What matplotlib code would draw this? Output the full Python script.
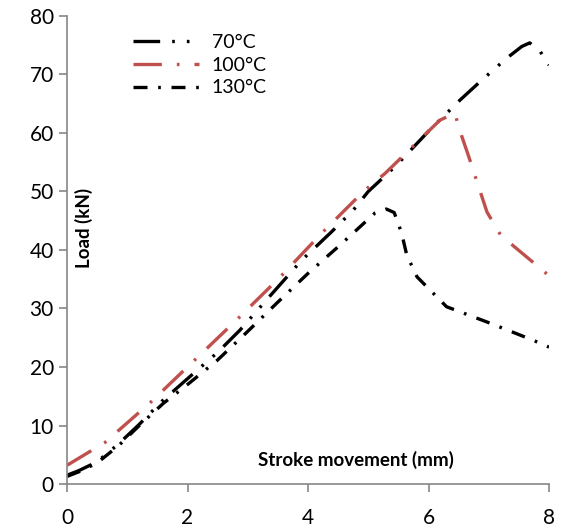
import matplotlib.pyplot as plt

plt.rcParams["font.family"] = ["Lato", "DejaVu Sans"]

# stroke (mm) vs load (kN)
x70 = [0, 0.2, 0.5, 0.85, 1.2, 1.57, 2.0, 2.5, 2.87, 3.4, 3.9, 4.4, 4.75, 5.0,
       5.47, 5.78, 6.0, 6.52, 6.88, 7.3, 7.55, 7.68, 7.85, 8.0]
y70 = [1.5, 2.3, 3.8, 6.8, 10.2, 14.1, 18.0, 22.5, 26.3, 32.5, 38.3, 43.2, 46.8, 50.0,
       54.5, 57.9, 60.3, 65.6, 69.0, 72.8, 74.8, 75.4, 74.0, 71.6]

x100 = [0, 0.63, 1.38, 2.1, 2.82, 3.54, 4.23, 4.93, 5.28, 6.02, 6.19, 6.44, 6.5,
        6.66, 6.97, 7.2, 7.63, 8.0]
y100 = [3.2, 7.1, 13.9, 21.0, 28.1, 35.4, 42.9, 50.1, 53.1, 60.5, 62.2, 63.4, 61.0,
        56.2, 46.5, 42.5, 38.8, 35.6]

x130 = [0, 0.2, 0.5, 0.85, 1.2, 1.6, 2.0, 2.5, 2.95, 3.48, 4.0, 4.56, 5.11, 5.3,
        5.43, 5.5, 5.56, 5.64, 5.81, 6.3, 7.02, 7.73, 8.0]
y130 = [1.3, 2.1, 3.6, 6.5, 10.0, 13.8, 17.0, 21.2, 25.6, 30.9, 36.0, 41.1, 46.3, 47.0,
        46.4, 44.5, 42.6, 39.1, 35.4, 30.3, 27.5, 24.6, 23.4]

fig = plt.figure(figsize=(5.65, 5.31), dpi=100)
ax = fig.add_axes([0.1186, 0.0885, 0.8531, 0.8814])

ax.plot(x70, y70, color="black", lw=2.4, dashes=(8, 3.6, 0.8, 3.6, 0.8, 3.6), label="70°C")
ax.plot(x100, y100, color="#C0504D", lw=2.4, dashes=(8.5, 4.5, 0.8, 4.5), label="100°C")
ax.plot(x130, y130, color="black", lw=2.4, dashes=(4.2, 3.2, 0.8, 3.2), label="130°C")

ax.set_xlim(0, 8)
ax.set_ylim(0, 80)
ax.set_xticks(range(0, 9, 2))
ax.set_yticks(range(0, 81, 10))

for s in ["top", "right"]:
    ax.spines[s].set_visible(False)
for s in ["left", "bottom"]:
    ax.spines[s].set_color("#868686")
    ax.spines[s].set_linewidth(1.2)
ax.tick_params(direction="out", length=6, width=1.2, color="#868686", labelsize=15)
ax.tick_params(axis="x", pad=11)

ax.text(0.035, 0.547, "Load (kN)", transform=ax.transAxes, rotation=90, fontsize=13.5,
        fontweight="bold", ha="center", va="center")
ax.text(0.6, 0.051, "Stroke movement (mm)", transform=ax.transAxes, fontsize=13.5,
        fontweight="bold", ha="center", va="center")

ax.legend(loc="upper left", bbox_to_anchor=(0.137, 0.962), frameon=False, fontsize=14,
          handlelength=3.4, handletextpad=0.65, labelspacing=0.3, borderpad=0,
          borderaxespad=0)

fig.savefig("out.png", dpi=100)
